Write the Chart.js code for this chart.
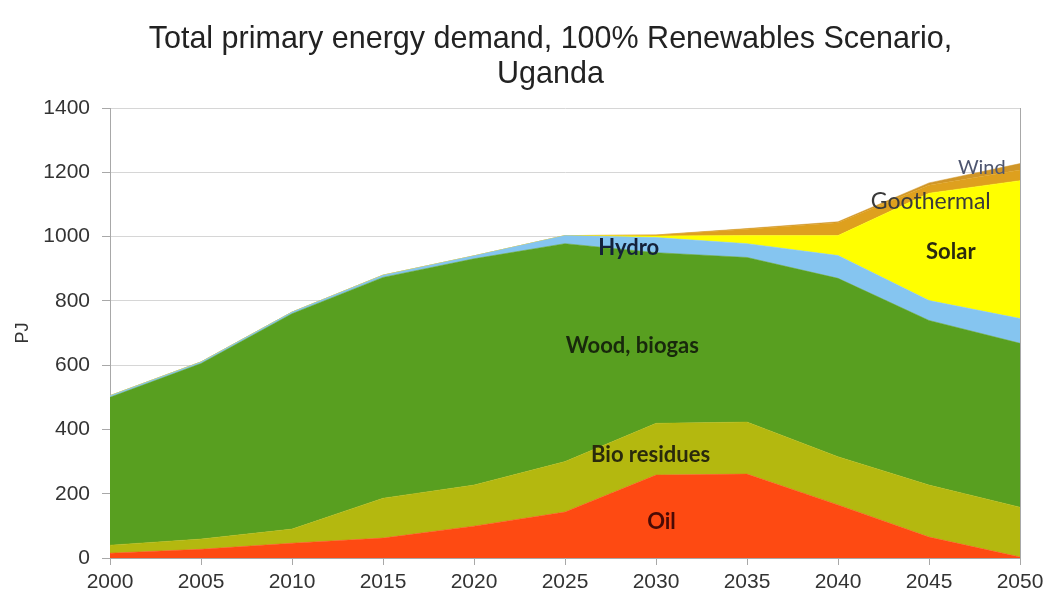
<!DOCTYPE html>
<html>
<head>
<meta charset="utf-8">
<script src="https://cdn.jsdelivr.net/npm/chart.js@4"></script>
<style>
  html, body { margin: 0; padding: 0; background: #ffffff; }
  #wrap { width: 1051px; height: 599px; position: relative; }
</style>
</head>
<body>
<div id="wrap"><canvas id="c" width="1051" height="599"></canvas></div>
<script>
// ---- data (PJ) ----
const years = [2000, 2005, 2010, 2015, 2020, 2025, 2030, 2035, 2040, 2045, 2050];
const oil        = [15, 27, 46, 62, 99, 143, 258, 261, 165, 65, 3];
const bioResidues= [25, 32, 44, 124, 128, 157, 161, 162, 150, 162, 155];
const woodBiogas = [460, 546, 670, 687, 704, 678, 531, 512, 555, 512, 510];
const hydro      = [5, 5, 5, 7, 9, 25, 47, 43, 71, 62, 77];
const solar      = [0, 0, 0, 0, 0, 0, 5, 25, 62, 334, 429];
const geothermal = [0, 0, 0, 0, 0, 0, 3, 20, 40, 25, 33];
const wind       = [0, 0, 0, 0, 0, 0, 0, 2, 3, 7, 20];
const yTicks = [0, 200, 400, 600, 800, 1000, 1200, 1400];
const titleLines = ['Total primary energy demand, 100% Renewables Scenario,', 'Uganda'];
const yAxisTitle = 'PJ';
const areaLabels = ['Oil', 'Bio residues', 'Wood, biogas', 'Hydro', 'Solar', 'Goothermal', 'Wind'];

// ---- styles ----
const seriesStyle = [
  { name: 'Oil',          data: oil,         color: '#fe4a12' },
  { name: 'Bio residues', data: bioResidues, color: '#b4b80f' },
  { name: 'Wood, biogas', data: woodBiogas,  color: '#589f20' },
  { name: 'Hydro',        data: hydro,       color: '#85c5f0' },
  { name: 'Solar',        data: solar,       color: '#ffff00' },
  { name: 'Geothermal',   data: geothermal,  color: '#dea01e' },
  { name: 'Wind',         data: wind,        color: '#d09628' }
];
// label anchors in data units (year, PJ) + style
const labelStyle = [
  { at: [2030.3, 112],  font: 'bold 22px Lato', color: '#4a0a05' },
  { at: [2029.7, 322],  font: 'bold 22px Lato', color: '#2a2a0c' },
  { at: [2028.7, 661],  font: 'bold 22px Lato', color: '#18280c' },
  { at: [2028.5, 966],  font: 'bold 22px Lato', color: '#14213a' },
  { at: [2046.2, 953],  font: 'bold 22px Lato', color: '#2a2a10' },
  { at: [2045.1, 1109], font: '23px Lato',      color: '#3a3a3a' },
  { at: [2047.9, 1216], font: '20px Lato',      color: '#4e5670' }
];

const datasets = seriesStyle.map((s, i) => ({
  label: s.name,
  data: years.map((yr, k) => ({ x: yr, y: s.data[k] })),
  backgroundColor: s.color,
  borderColor: s.color,
  borderWidth: 0.5,
  pointRadius: 0,
  tension: 0,
  fill: i === 0 ? 'origin' : '-1'
}));

const titlePlugin = {
  id: 'twoLineTitle',
  afterDraw(chart) {
    const ctx = chart.ctx;
    ctx.save();
    ctx.fillStyle = '#222222';
    ctx.font = '30.5px "Liberation Sans", Arial, sans-serif';
    ctx.textAlign = 'center';
    ctx.textBaseline = 'middle';
    const cx = chart.width / 2 + 25;
    titleLines.forEach((t, i) => ctx.fillText(t, cx, 40 + i * 35));
    ctx.restore();
  }
};

const labelPlugin = {
  id: 'areaLabels',
  afterDatasetsDraw(chart) {
    const ctx = chart.ctx, xs = chart.scales.x, ys = chart.scales.y;
    ctx.save();
    ctx.textAlign = 'center';
    ctx.textBaseline = 'middle';
    areaLabels.forEach((t, i) => {
      const st = labelStyle[i];
      ctx.font = st.font;
      ctx.fillStyle = st.color;
      ctx.fillText(t, xs.getPixelForValue(st.at[0]), ys.getPixelForValue(st.at[1]));
    });
    // right border of plot
    ctx.strokeStyle = '#a8a8a8';
    ctx.lineWidth = 1;
    ctx.beginPath();
    const r = Math.round(chart.chartArea.right) + 0.5;
    ctx.moveTo(r, chart.chartArea.top);
    ctx.lineTo(r, chart.chartArea.bottom);
    ctx.stroke();
    ctx.restore();
  }
};

new Chart(document.getElementById('c'), {
  type: 'line',
  data: { datasets },
  options: {
    responsive: false,
    animation: false,
    layout: { padding: { top: 108, right: 31, left: 0, bottom: 0 } },
    plugins: {
      legend: { display: false },
      title: { display: false },
      tooltip: { enabled: false }
    },
    scales: {
      x: {
        type: 'linear',
        min: years[0],
        max: years[years.length - 1],
        afterBuildTicks(scale) { scale.ticks = years.map(v => ({ value: v })); },
        afterFit(scale) { scale.height = 41; },
        ticks: {
          callback: v => String(v),
          color: '#333333',
          font: { family: '"Liberation Sans", Arial, sans-serif', size: 21 },
          padding: 5,
          maxRotation: 0,
          autoSkip: false
        },
        grid: { display: true, drawOnChartArea: false, color: '#a8a8a8', tickColor: '#a8a8a8', tickLength: 7 },
        border: { color: '#a8a8a8' }
      },
      y: {
        stacked: true,
        min: 0,
        max: 1400,
        afterBuildTicks(scale) { scale.ticks = yTicks.map(v => ({ value: v })); },
        afterFit(scale) { scale.width = 110; },
        ticks: {
          callback: v => String(v),
          color: '#333333',
          font: { family: '"Liberation Sans", Arial, sans-serif', size: 21 },
          padding: 12
        },
        title: {
          display: true,
          text: yAxisTitle,
          color: '#333333',
          font: { family: '"Liberation Sans", Arial, sans-serif', size: 18 },
          padding: { top: 12, bottom: 0 }
        },
        grid: { color: '#d6d6d6', tickColor: '#a8a8a8', tickLength: 8 },
        border: { color: '#a8a8a8' }
      }
    }
  },
  plugins: [titlePlugin, labelPlugin]
});
</script>
</body>
</html>
